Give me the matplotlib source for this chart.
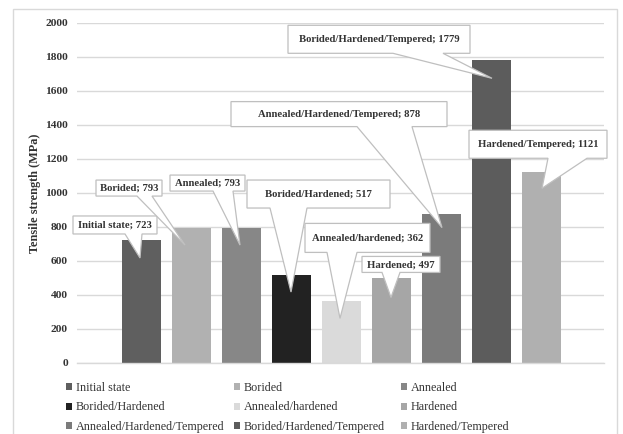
import matplotlib
matplotlib.use("Agg")
import matplotlib.pyplot as plt
import matplotlib.transforms as mtransforms
from matplotlib.patches import Polygon, Rectangle, Patch

# Tensile strength per treatment state
treatments = [
    "Initial state", "Borided", "Annealed",
    "Borided/Hardened", "Annealed/hardened", "Hardened",
    "Annealed/Hardened/Tempered", "Borided/Hardened/Tempered", "Hardened/Tempered",
]
strength = [723, 793, 793, 517, 362, 497, 878, 1779, 1121]
colors = ["#5f5f5f", "#b1b1b1", "#878787", "#222222", "#dadada",
          "#a6a6a6", "#7b7b7b", "#5c5c5c", "#b0b0b0"]
yticks = [0, 200, 400, 600, 800, 1000, 1200, 1400, 1600, 1800, 2000]

# Callout geometry in pixels relative to the top centre of each bar:
# (box left, box right, box top, box bottom, wedge left, wedge right, tip x, tip y)
callouts = [
    (-68, 16, 24, 6, -16, 1, -1, -18),
    (-95, -29, 48, 32, -54, -39, -6, -17),
    (-71, 4, 53, 37, -28, -8, -1, -17),
    (-44, 99, 95, 67, -21, 16, 0, -17),
    (-36, 89, 78, 49, -14, 16, -1, -17),
    (-29, 49, 22, 6, -9, 9, 0, -19),
    (-210, 6, 112, 87, -84, -29, 1, -14),
    (-203, -21, 35, 7, -98, -48, 1, -18),
    (-72, 66, 42, 14, 7, 46, 1, -16),
]

DPI = 100
serif = ["Liberation Serif", "DejaVu Serif"]
plt.rcParams["font.family"] = serif

fig = plt.figure(figsize=(6.23, 4.34), dpi=DPI)
fig.patch.set_facecolor("white")

# outer chart frame
fig.add_artist(Rectangle((13 / 623, -0.01), 604 / 623, 1 - 9 / 434 + 0.01,
                         transform=fig.transFigure, fill=False,
                         edgecolor="#d9d9d9", linewidth=1.0))

ax = fig.add_axes([77 / 623, 1 - 363 / 434, (604 - 77) / 623, (363 - 22.7) / 434])

xs = list(range(len(strength)))
bars = ax.bar(xs, strength, width=0.78, color=colors, zorder=2)

ax.set_xlim(-1.28, 9.26)
ax.set_ylim(0, 2000)
ax.set_yticks(yticks)
ax.set_yticklabels([str(t) for t in yticks], fontsize=8.2, fontweight="bold",
                   color="#333333")
ax.set_xticks([])
ax.tick_params(axis="y", length=0, pad=6.5)
ax.grid(axis="y", color="#d9d9d9", linewidth=1.0, zorder=0)
for side in ["top", "right", "left"]:
    ax.spines[side].set_visible(False)
ax.spines["bottom"].set_color("#d9d9d9")
ax.spines["bottom"].set_linewidth(1.0)

ax.set_ylabel("Tensile strength (MPa)", fontsize=8.8, fontweight="bold",
              color="#333333", labelpad=3)

# data callouts
px = mtransforms.Affine2D().scale(1 / DPI) + fig.dpi_scale_trans
for x, v, name, c in zip(xs, strength, treatments, callouts):
    x0, x1, yt, yb, wl, wr, tx, ty = c
    tr = px + mtransforms.ScaledTranslation(x, v, ax.transData)
    verts = [(x0, yt), (x1, yt), (x1, yb), (wr, yb), (tx, ty), (wl, yb), (x0, yb)]
    ax.add_patch(Polygon(verts, closed=True, facecolor="white",
                         edgecolor="#bfbfbf", linewidth=0.9, transform=tr,
                         zorder=4, clip_on=False))
    ax.text((x0 + x1) / 2, (yt + yb) / 2 - 0.5, f"{name}; {v}", transform=tr,
            ha="center", va="center", fontsize=7.7, fontweight="bold",
            color="#333333", zorder=5)

# legend: three equal-width columns, filled row by row
handles = [Patch(facecolor=c, edgecolor="none") for c in colors]
col_left = [66, 234, 401]  # left edge of each legend column, figure pixels
for j, left in enumerate(col_left):
    idx = [j, j + 3, j + 6]
    leg = fig.legend([handles[i] for i in idx], [treatments[i] for i in idx],
                     loc="upper left", bbox_to_anchor=(left / 623, 1 - 382 / 434),
                     frameon=False, fontsize=8.7, handlelength=0.5,
                     handleheight=0.5, handletextpad=0.3,
                     labelspacing=0.62, borderaxespad=0, borderpad=0)
    for t in leg.get_texts():
        t.set_color("#333333")

fig.savefig("out.png", dpi=DPI, facecolor="white")
